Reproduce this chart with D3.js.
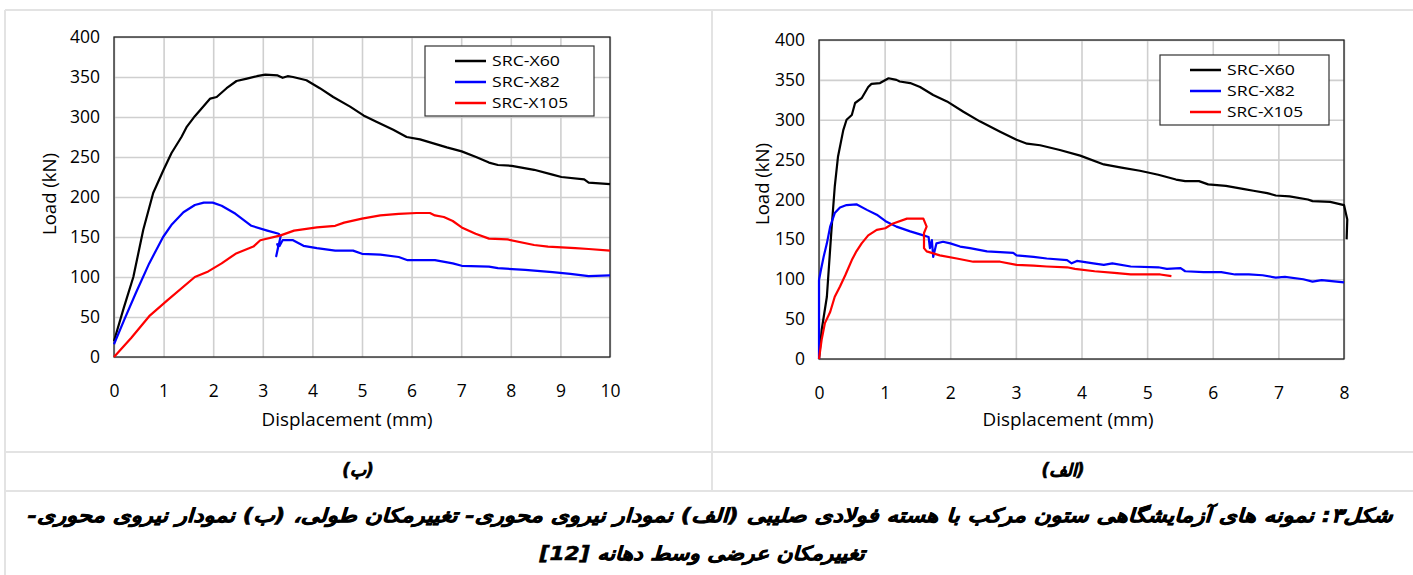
<!DOCTYPE html>
<html>
<head>
<meta charset="utf-8">
<script src="https://cdn.jsdelivr.net/npm/d3@7"></script>
<style>
  body { margin: 0; background: #fff; }
  svg { display: block; }
  .tick text { font-family: "Open Sans", sans-serif; font-size: 17.5px; fill: #000; }
  .axis-title { font-family: "Open Sans", sans-serif; font-size: 17.5px; fill: #000; }
  .legend text { font-family: "Open Sans", sans-serif; font-size: 15px; fill: #000; }
  .fa { font-family: "DejaVu Sans", sans-serif; font-weight: bold; font-style: italic; fill: #000;
        stroke: #000; stroke-width: 0.6px; }
</style>
</head>
<body>
<svg id="fig" width="1413" height="575"></svg>
<script>
// Data
const seriesNames = ['SRC-X60', 'SRC-X82', 'SRC-X105'];
const seriesColors = ['#000000', '#0000ff', '#ff0000'];
const yTicks = [0, 50, 100, 150, 200, 250, 300, 350, 400];
const xTicksLeft = [0, 1, 2, 3, 4, 5, 6, 7, 8, 9, 10];
const xTicksRight = [0, 1, 2, 3, 4, 5, 6, 7, 8];

// (ب) lateral displacement - [mm, kN]
const leftX60 = [[0,20],[0.2,62],[0.39,100],[0.59,159],[0.79,205],[1.0,234],[1.16,255],[1.36,275],[1.47,288],
  [1.63,301],[1.77,311],[1.94,323],[2.07,325],[2.27,336],[2.47,345],[2.68,348],[2.88,351],[3.05,353],[3.3,352],
  [3.4,349],[3.5,351],[3.61,350],[3.88,346],[4.15,336],[4.42,325],[4.76,313],[5.03,302],[5.29,294],[5.63,284],
  [5.9,275],[6.17,272],[6.44,267],[6.71,262],[7.01,257],[7.3,250],[7.56,243],[7.74,240],[8.02,239],[8.47,234],
  [8.84,228],[9.02,225],[9.48,222],[9.57,218],[10,216]];
const leftX82 = [[0,16],[0.21,47],[0.44,80],[0.71,117],[0.99,150],[1.17,166],[1.4,181],[1.63,190],[1.81,193],
  [1.99,193],[2.17,189],[2.45,179],[2.77,164],[3.09,158],[3.32,154],[3.36,151],[3.27,126],[3.31,138],[3.29,141],
  [3.34,139],[3.4,146],[3.61,146],[3.82,139],[4.09,136],[4.46,133],[4.82,133],[5.0,129],[5.37,128],[5.74,125],
  [5.92,121],[6.47,121],[6.83,117],[7.01,114],[7.56,113],[7.74,111],[8.29,109],[8.84,106],[9.2,104],[9.57,101],
  [10,102]];
const leftX105 = [[0,0],[0.35,24],[0.71,51],[1.08,71],[1.63,100],[1.9,107],[2.17,117],[2.45,129],[2.81,138],
  [2.95,146],[3.36,152],[3.63,158],[4.09,162],[4.46,164],[4.64,168],[5.0,173],[5.37,177],[5.74,179],[6.1,180],
  [6.37,180],[6.47,177],[6.65,175],[6.83,170],[7.01,162],[7.29,154],[7.56,148],[7.93,147],[8.47,140],[8.75,138],
  [9.3,136],[9.57,135],[10,133]];

// (الف) axial displacement - [mm, kN]
const rightX60 = [[0,0],[0.04,36],[0.12,78],[0.19,162],[0.24,216],[0.29,254],[0.37,287],[0.42,300],[0.5,306],
  [0.55,321],[0.65,327],[0.75,341],[0.8,345],[0.93,346],[1.06,352],[1.18,350],[1.23,348],[1.39,346],[1.54,341],
  [1.74,331],[1.95,323],[2.2,310],[2.45,298],[2.76,285],[3.01,275],[3.17,270],[3.37,268],[3.67,262],[3.98,255],
  [4.34,244],[4.61,240],[4.89,236],[5.17,231],[5.44,225],[5.58,223],[5.79,223],[5.93,219],[6.2,217],[6.48,213],
  [6.62,211],[6.83,208],[6.96,205],[7.17,204],[7.45,200],[7.52,198],[7.79,197],[8.0,193],[8.05,175],[8.04,150]];
const rightX82 = [[0,0],[0,99],[0.03,112],[0.07,128],[0.12,145],[0.17,166],[0.24,183],[0.32,190],[0.42,193],
  [0.57,194],[0.73,187],[0.88,181],[1.03,172],[1.18,166],[1.39,160],[1.59,155],[1.67,153],[1.69,139],[1.72,149],
  [1.74,128],[1.79,145],[1.89,147],[2.0,145],[2.15,141],[2.3,139],[2.56,135],[2.96,133],[3.01,130],[3.27,128],
  [3.47,126],[3.78,124],[3.85,120],[3.93,123],[4.18,120],[4.34,118],[4.47,120],[4.75,116],[5.17,115],[5.3,113],
  [5.51,114],[5.58,110],[5.86,109],[6.13,109],[6.34,106],[6.55,106],[6.76,105],[6.96,102],[7.1,103],[7.38,100],
  [7.52,97],[7.66,99],[8.0,96]];
const rightX105 = [[0,0],[0.04,24],[0.09,45],[0.17,59],[0.24,78],[0.32,91],[0.4,105],[0.5,124],[0.57,135],
  [0.65,145],[0.75,155],[0.88,162],[1.01,164],[1.13,170],[1.34,176],[1.59,176],[1.64,166],[1.6,158],[1.6,139],
  [1.64,135],[1.84,130],[2.1,126],[2.35,122],[2.76,122],[3.01,118],[3.27,117],[3.47,116],[3.78,115],[3.9,113],
  [4.2,110],[4.5,108],[4.75,106],[5.2,106],[5.37,104]];

// Persian caption texts
const captionLeft = '(ب)';
const captionRight = '(الف)';
const figLine1 = 'شکل۳: نمونه های آزمایشگاهی ستون مرکب با هسته فولادی صلیبی (الف) نمودار نیروی محوری- تغییرمکان طولی، (ب) نمودار نیروی محوری-';
const figLine2 = 'تغییرمکان عرضی وسط دهانه  [12]';

const svg = d3.select('#fig');

// table frame
const frameColor = '#e3e3e3';
const frame = svg.append('g').attr('stroke', frameColor).attr('stroke-width', 2);
frame.append('line').attr('x1', 5).attr('x2', 1413).attr('y1', 10).attr('y2', 10);
frame.append('line').attr('x1', 5).attr('x2', 5).attr('y1', 10).attr('y2', 575);
frame.append('line').attr('x1', 712).attr('x2', 712).attr('y1', 10).attr('y2', 491);
frame.append('line').attr('x1', 5).attr('x2', 1413).attr('y1', 452).attr('y2', 452);
frame.append('line').attr('x1', 5).attr('x2', 1413).attr('y1', 491).attr('y2', 491);

// legend text widths as drawn in the picture
const legendWidths = [68, 68, 76];

function drawChart(cfg) {
  const x = d3.scaleLinear([0, cfg.xMax], [cfg.left, cfg.right]);
  const y = d3.scaleLinear([0, 400], [cfg.bottom, cfg.top]);
  const w = cfg.right - cfg.left, h = cfg.bottom - cfg.top;
  const g = svg.append('g');

  // grid
  g.append('g').attr('transform', `translate(0,${cfg.bottom})`)
    .call(d3.axisBottom(x).tickValues(cfg.xTicks).tickSize(-h).tickFormat(''))
    .call(a => a.select('.domain').remove())
    .call(a => a.selectAll('line').attr('stroke', '#cfcfcf').attr('stroke-width', 1.6));
  g.append('g').attr('transform', `translate(${cfg.left},0)`)
    .call(d3.axisLeft(y).tickValues(yTicks).tickSize(-w).tickFormat(''))
    .call(a => a.select('.domain').remove())
    .call(a => a.selectAll('line').attr('stroke', '#cfcfcf').attr('stroke-width', 1.6));

  // tick labels
  g.append('g').attr('transform', `translate(0,${cfg.bottom})`)
    .call(d3.axisBottom(x).tickValues(cfg.xTicks).tickSize(0).tickPadding(28).tickFormat(d3.format('d')))
    .call(a => a.select('.domain').remove());
  g.append('g').attr('transform', `translate(${cfg.left},0)`)
    .call(d3.axisLeft(y).tickValues(yTicks).tickSize(0).tickPadding(14).tickFormat(d3.format('d')))
    .call(a => a.select('.domain').remove());

  // plot border
  g.append('rect').attr('x', cfg.left).attr('y', cfg.top).attr('width', w).attr('height', h)
    .attr('fill', 'none').attr('stroke', '#222').attr('stroke-width', 1.3);

  // series
  const line = d3.line().x(d => x(d[0])).y(d => y(d[1]));
  cfg.series.forEach((s, i) => {
    g.append('path').datum(s).attr('d', line)
      .attr('fill', 'none').attr('stroke', seriesColors[i])
      .attr('stroke-width', 2.2).attr('stroke-linejoin', 'round');
  });

  // axis titles
  g.append('text').attr('class', 'axis-title')
    .attr('x', cfg.xTitleX).attr('y', 426)
    .attr('text-anchor', 'middle').attr('textLength', 171).attr('lengthAdjust', 'spacingAndGlyphs')
    .text('Displacement (mm)');
  g.append('text').attr('class', 'axis-title')
    .attr('transform', `translate(${cfg.yTitleX},${cfg.yTitleY}) rotate(-90)`)
    .attr('text-anchor', 'middle').attr('dy', '0.35em').attr('textLength', 82)
    .attr('lengthAdjust', 'spacingAndGlyphs').text('Load (kN)');

  // legend
  const lg = g.append('g').attr('class', 'legend')
    .attr('transform', `translate(${cfg.legend[0]},${cfg.legend[1]})`);
  lg.append('rect').attr('width', 169).attr('height', 70)
    .attr('fill', '#fff').attr('stroke', '#333').attr('stroke-width', 1.2);
  seriesNames.forEach((n, i) => {
    const yy = 15 + i * 21;
    lg.append('line').attr('x1', 30).attr('x2', 61).attr('y1', yy).attr('y2', yy)
      .attr('stroke', seriesColors[i]).attr('stroke-width', 2.5);
    lg.append('text').attr('x', 67).attr('y', yy).attr('dy', '0.36em')
      .attr('textLength', legendWidths[i]).attr('lengthAdjust', 'spacingAndGlyphs').text(n);
  });
}

drawChart({
  left: 114, right: 610, top: 37, bottom: 357, xMax: 10, xTicks: xTicksLeft,
  series: [leftX60, leftX82, leftX105], legend: [425, 46], yTitleX: 50, yTitleY: 194, xTitleX: 347
});
drawChart({
  left: 819, right: 1344, top: 40, bottom: 359, xMax: 8, xTicks: xTicksRight,
  series: [rightX60, rightX82, rightX105], legend: [1160, 55], yTitleX: 763, yTitleY: 184, xTitleX: 1068
});

// captions
svg.append('text').attr('class', 'fa').attr('x', 358).attr('y', 476)
  .attr('text-anchor', 'middle').attr('direction', 'rtl').style('font-size', '17px').text(captionLeft);
svg.append('text').attr('class', 'fa').attr('x', 1063).attr('y', 476)
  .attr('text-anchor', 'middle').attr('direction', 'rtl').style('font-size', '17px').text(captionRight);

svg.append('text').attr('class', 'fa').attr('x', 710).attr('y', 522)
  .attr('text-anchor', 'middle').attr('direction', 'rtl').style('font-size', '19px')
  .attr('textLength', 1365).attr('lengthAdjust', 'spacingAndGlyphs').text(figLine1);
svg.append('text').attr('class', 'fa').attr('x', 702).attr('y', 560)
  .attr('text-anchor', 'middle').attr('direction', 'rtl').style('font-size', '19px')
  .attr('textLength', 325).attr('lengthAdjust', 'spacingAndGlyphs').text(figLine2);
</script>
</body>
</html>
